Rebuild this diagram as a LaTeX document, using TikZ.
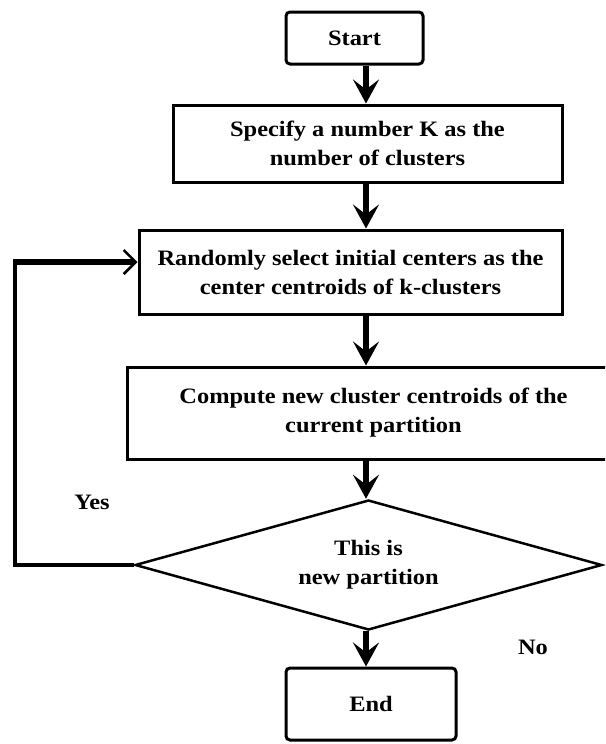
\documentclass[tikz,border=0pt]{standalone}
\usepackage{fontspec}
\newfontfamily\flowfont[FakeStretch=1.11]{Liberation Serif}
\usetikzlibrary{shapes.geometric,arrows.meta}

\begin{document}
\begin{tikzpicture}[x=1pt,y=-1pt,
  every node/.style={font=\flowfont\bfseries\fontsize{22}{29}\selectfont,
                     align=center, inner sep=0pt},
  procbox/.style={draw, line width=3pt, rectangle},
  termbox/.style={draw, line width=3pt, rectangle, rounded corners=4pt},
  decbox/.style={draw, line width=2.5pt, diamond, aspect=3.6},
  flow/.style={line width=6pt, -{Stealth[length=24pt,width=26pt,inset=10pt]}},
  loopline/.style={line width=3.5pt},
  loopback/.style={line width=6pt, shorten <=-1.75pt,
                   -{Straight Barb[length=12pt,width=24pt,line width=2.5pt]}}
]
\useasboundingbox (0,0) rectangle (605,744);
\clip (0,0) rectangle (605,744);
\fill[white] (0,0) rectangle (605,744);

% flowchart blocks
\node[termbox, minimum width=137pt, minimum height=52pt] (start) at (354.5,38) {Start};
\node[procbox, minimum width=389pt, minimum height=77pt] (spec) at (367.5,143.5)
  {Specify a number K as the\\number of clusters};
\node[procbox, minimum width=423pt, minimum height=84pt] (init) at (350.5,272)
  {Randomly select initial centers as the\\center centroids of k-clusters};
\node[procbox, minimum width=493pt, minimum height=92pt] (comp) at (373.5,413)
  {Compute new cluster centroids of the\\current partition};
\node[decbox, minimum width=467pt, minimum height=130pt] (dec) at (368.5,565)
  {This is\\new partition};
\node[termbox, minimum width=170pt, minimum height=72pt] (end) at (371,704) {End};

% branch labels
\node (yes) at (92,502) {Yes};
\node (no) at (533,647) {No};

% main flow down the spine
\coordinate (spine) at (366,0);
\draw[flow] (start.south -| spine) -- (spec.north -| spine);
\draw[flow] (spec.south -| spine) -- (init.north -| spine);
\draw[flow] (init.south -| spine) -- (comp.north -| spine);
\draw[flow] (comp.south -| spine) -- (dec.north -| spine);
\draw[flow] (dec.south -| spine) -- (end.north -| spine);

% loop back when a new partition appears
\coordinate (lowcorner) at (15,565);
\coordinate (highcorner) at (15,262);
\draw[loopline] (dec.west) -- (lowcorner) -- (highcorner);
\draw[loopback] (highcorner) -- (highcorner -| init.west);
\end{tikzpicture}
\end{document}
